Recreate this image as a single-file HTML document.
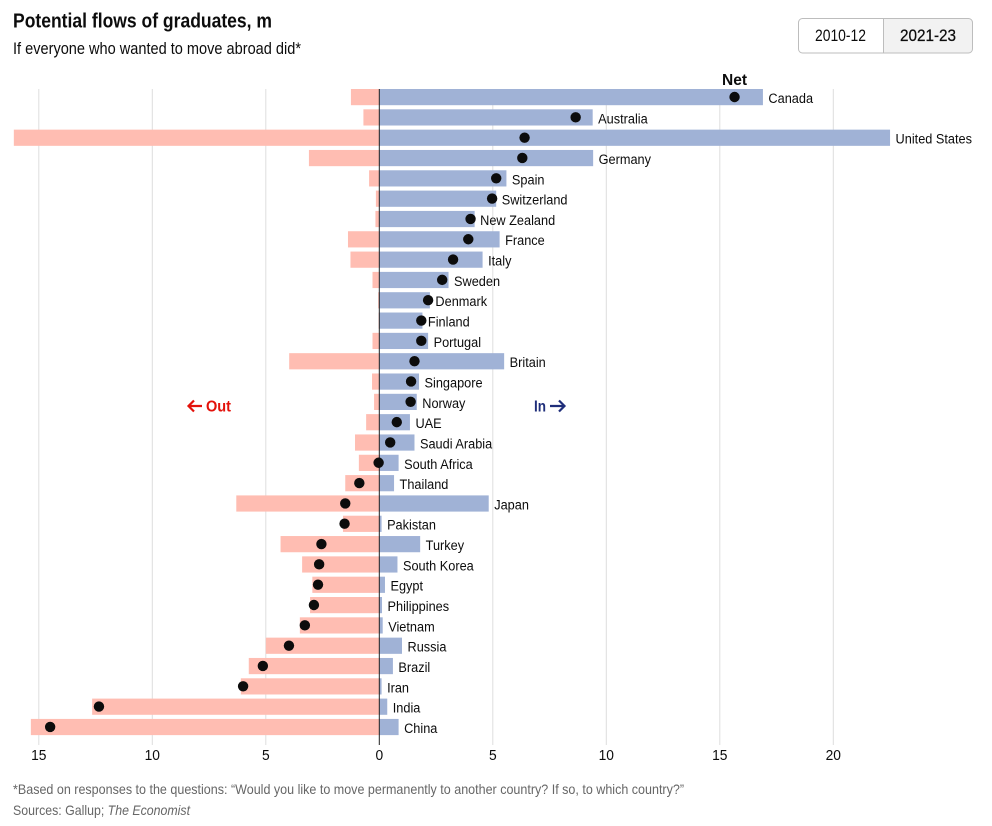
<!DOCTYPE html>
<html lang="en">
<head>
<meta charset="utf-8">
<title>Potential flows of graduates</title>
<style>
html,body{margin:0;padding:0;background:#fff;width:992px;height:826px;overflow:hidden}
svg{display:block;font-family:"Liberation Sans",sans-serif}
</style>
</head>
<body>
<svg id="chart" width="992" height="826" viewBox="0 0 992 826" xmlns="http://www.w3.org/2000/svg">
  <text x="13" y="27.3" font-size="20" font-weight="700" fill="#0c0c0c" textLength="259" lengthAdjust="spacingAndGlyphs">Potential flows of graduates, m</text>
  <text x="13" y="54" font-size="17" fill="#0c0c0c" textLength="288" lengthAdjust="spacingAndGlyphs">If everyone who wanted to move abroad did*</text>
  <g>
    <path d="M883.5 18.5H802.5a4 4 0 0 0-4 4V49a4 4 0 0 0 4 4H883.5Z" fill="#fff" stroke="#bdbdbd"/>
    <path d="M883.5 18.5H968.5a4 4 0 0 1 4 4V49a4 4 0 0 1-4 4H883.5Z" fill="#f2f2f2" stroke="#bdbdbd"/>
    <text x="815" y="41" font-size="16.5" fill="#0c0c0c" textLength="51" lengthAdjust="spacingAndGlyphs">2010-12</text>
    <text x="900" y="41" font-size="16.5" fill="#0c0c0c" stroke="#0c0c0c" stroke-width="0.25" textLength="56" lengthAdjust="spacingAndGlyphs">2021-23</text>
  </g>
  <text x="722" y="85" font-size="16" font-weight="700" fill="#0c0c0c" textLength="25" lengthAdjust="spacingAndGlyphs">Net</text>
  <g id="grid"></g>
  <g id="bars"></g>
  <g id="labels"></g>
  <line x1="379.3" x2="379.3" y1="89" y2="745" stroke="#222" stroke-width="1"/>
  <g id="dots"></g>
  <g id="ticks"></g>
  <path d="M202 406H189M194 400.5L188.5 406L194 411.5" fill="none" stroke="#e3120b" stroke-width="2.2"/>
  <text x="206" y="411.7" font-size="16" font-weight="700" fill="#e3120b" textLength="25" lengthAdjust="spacingAndGlyphs">Out</text>
  <text x="534" y="411.7" font-size="16" font-weight="700" fill="#1f2e7a" textLength="12" lengthAdjust="spacingAndGlyphs">In</text>
  <path d="M550 406H564M559 400.5L564.5 406L559 411.5" fill="none" stroke="#1f2e7a" stroke-width="2.2"/>
  <text x="13" y="794" font-size="14" fill="#666" textLength="671" lengthAdjust="spacingAndGlyphs">*Based on responses to the questions: “Would you like to move permanently to another country? If so, to which country?”</text>
  <text x="13" y="815" font-size="14" fill="#666" textLength="177" lengthAdjust="spacingAndGlyphs">Sources: Gallup; <tspan font-style="italic">The Economist</tspan></text>
</svg>
<script>
const countries = ["Canada","Australia","United States","Germany","Spain","Switzerland","New Zealand","France","Italy","Sweden","Denmark","Finland","Portugal","Britain","Singapore","Norway","UAE","Saudi Arabia","South Africa","Thailand","Japan","Pakistan","Turkey","South Korea","Egypt","Philippines","Vietnam","Russia","Brazil","Iran","India","China"];
const inflow = [16.9,9.4,22.5,9.42,5.6,5.15,4.2,5.3,4.55,3.05,2.23,1.9,2.15,5.5,1.75,1.65,1.35,1.55,0.85,0.65,4.82,0.1,1.8,0.8,0.25,0.12,0.15,1.0,0.6,0.1,0.35,0.85];
const outflow = [1.25,0.7,16.1,3.1,0.45,0.15,0.17,1.38,1.27,0.3,0.05,0.03,0.3,3.97,0.32,0.23,0.58,1.07,0.9,1.5,6.3,1.6,4.35,3.4,2.95,3.05,3.5,5.0,5.75,6.1,12.65,15.35];
const net = [15.65,8.65,6.4,6.3,5.15,4.97,4.02,3.92,3.25,2.77,2.15,1.85,1.85,1.55,1.4,1.38,0.77,0.48,-0.03,-0.88,-1.5,-1.53,-2.55,-2.65,-2.7,-2.88,-3.28,-3.98,-5.13,-6.0,-12.35,-14.5];
const outTicks = [15,10,5];
const inTicks = [0,5,10,15,20];

const NS = "http://www.w3.org/2000/svg";
const zeroX = 379.3, unit = 22.7;
const rowTop = 89, rowStep = 20.32, barH = 16.2;
const xIn = v => zeroX + v * unit;
const xOut = v => zeroX - v * unit;
const yRow = i => rowTop + i * rowStep;

function make(tag, attrs, parent, text) {
  const el = document.createElementNS(NS, tag);
  for (const k in attrs) el.setAttribute(k, attrs[k]);
  if (text !== undefined) el.textContent = text;
  parent.appendChild(el);
  return el;
}
const grid = document.getElementById("grid");
const bars = document.getElementById("bars");
const labels = document.getElementById("labels");
const dots = document.getElementById("dots");
const ticks = document.getElementById("ticks");

function drawTick(x, value) {
  const t = make("text", {transform: `translate(${x} 760) scale(0.92 1)`, "text-anchor": "middle", "font-size": 15, fill: "#0c0c0c"}, ticks, String(value));
  
  
  if (value === 0) return;
  const g = make("line", {x1: x, x2: x, y1: rowTop, y2: 745, stroke: "#dedede", "stroke-width": 1}, grid);
  
  
}
outTicks.forEach(v => drawTick(xOut(v), v));
inTicks.forEach(v => drawTick(xIn(v), v));

countries.forEach((name, i) => {
  const y = yRow(i);
  const o = make("rect", {x: xOut(outflow[i]), y: y, width: outflow[i] * unit, height: barH, fill: "#ffbdb2"}, bars);
  
  
  const b = make("rect", {x: zeroX, y: y, width: inflow[i] * unit, height: barH, fill: "#a0b2d6"}, bars);
  
  
  const lx = xIn(inflow[i]) + 5.5;
  const ly = y + 14;
  const l = make("text", {transform: `translate(${lx} ${ly}) scale(0.91 1)`, "font-size": 14, fill: "#0c0c0c"}, labels, name);
  
  
  const d = make("circle", {cx: xIn(net[i]), cy: y + 8, r: 5.2, fill: "#0c0c0c"}, dots);
  
  
});
</script>
</body>
</html>
